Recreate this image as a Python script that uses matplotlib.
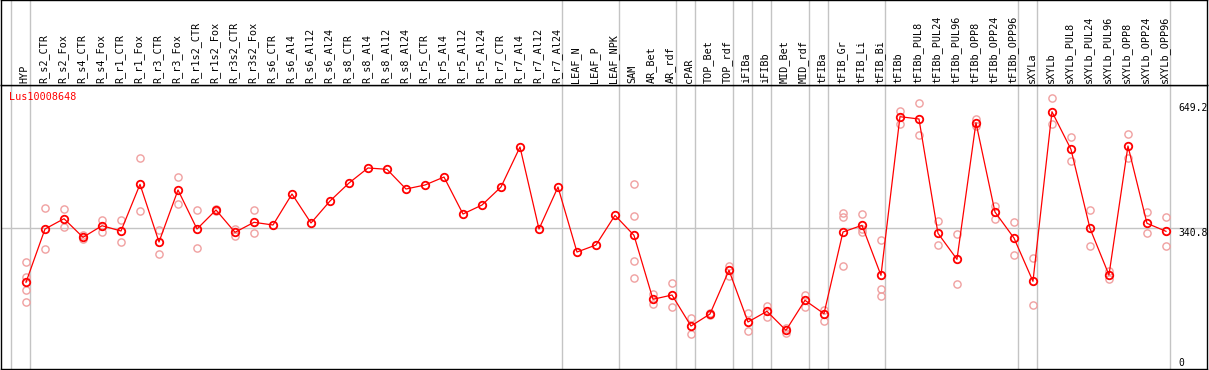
import matplotlib
matplotlib.use("Agg")
import matplotlib.pyplot as plt
import matplotlib.transforms as mtransforms

# sample names (columns)
categories = [
    "HYP", "R_s2_CTR", "R_s2_Fox", "R_s4_CTR", "R_s4_Fox", "R_r1_CTR", "R_r1_Fox",
    "R_r3_CTR", "R_r3_Fox", "R_r1s2_CTR", "R_r1s2_Fox", "R_r3s2_CTR", "R_r3s2_Fox",
    "R_s6_CTR", "R_s6_Al4", "R_s6_Al12", "R_s6_Al24", "R_s8_CTR", "R_s8_Al4",
    "R_s8_Al12", "R_s8_Al24", "R_r5_CTR", "R_r5_Al4", "R_r5_Al12", "R_r5_Al24",
    "R_r7_CTR", "R_r7_Al4", "R_r7_Al12", "R_r7_Al24", "LEAF_N", "LEAF_P", "LEAF_NPK",
    "SAM", "AR_Bet", "AR_rdf", "cPAR", "TOP_Bet", "TOP_rdf", "iFIBa", "iFIBb",
    "MID_Bet", "MID_rdf", "tFIBa", "tFIB_Gr", "tFIB_Li", "tFIB_Bi", "tFIBb",
    "tFIBb_PUL8", "tFIBb_PUL24", "tFIBb_PUL96", "tFIBb_OPP8", "tFIBb_OPP24",
    "tFIBb_OPP96", "sXYLa", "sXYLb", "sXYLb_PUL8", "sXYLb_PUL24", "sXYLb_PUL96",
    "sXYLb_OPP8", "sXYLb_OPP24", "sXYLb_OPP96",
]

# mean expression per sample
means = [
    207.6, 339.1, 364.5, 318.6, 347.2, 334.2, 449.4, 307.0, 435.4, 339.1, 386.0,
    331.0, 355.6, 349.0, 425.5, 353.9, 408.2, 452.6, 489.7, 486.4, 437.8, 447.7,
    467.4, 376.1, 398.3, 442.8, 541.5, 339.1, 442.8, 282.3, 299.6, 372.9,
    323.5, 165.6, 176.2, 99.7, 129.3, 237.2, 109.6, 136.0, 89.1, 163.1, 130.1,
    331.7, 348.2, 224.8, 616.3, 610.6, 328.5, 264.3, 601.4, 381.1, 316.9,
    210.0, 628.6, 535.8, 340.8, 225.6, 543.9, 353.2, 333.4,
]

# replicate values per sample (empty = no replicates shown)
replicates = [
    [256.9, 221.4, 188.6, 158.2], [390.2, 289.0], [387.7, 343.3], [323.1, 314.4],
    [362.1, 332.4], [361.3, 306.3], [514.3, 383.5], [336.6, 276.7], [466.7, 400.8],
    [386.0, 292.2], [389.2, 382.8], [339.1, 322.6], [386.0, 328.5],
    [], [], [], [], [], [], [], [], [], [], [], [], [], [], [], [], [], [], [],
    [450.2, 370.4, 259.4, 217.4], [178.7, 153.3], [205.8, 146.6], [118.7, 80.0],
    [131.1, 127.6], [248.5, 223.8], [131.1, 87.4], [149.8, 122.7], [94.8, 81.7],
    [176.2, 147.3], [138.5, 112.8], [379.3, 369.5, 247.8], [375.4, 337.9, 331.7],
    [311.2, 190.3, 174.5], [631.1, 598.2], [649.3, 570.4], [358.8, 298.9],
    [326.0, 202.6], [609.8, 593.3], [395.9, 363.8], [356.4, 274.9],
    [267.5, 150.8], [662.4, 598.2], [565.4, 506.2], [386.0, 297.1],
    [236.2, 215.0], [572.8, 514.3], [380.3, 328.5], [368.0, 297.1],
]

# group separators: drawn after these column indices (-1 = before the first)
separators_after = [-1, 0, 28, 31, 34, 35, 37, 38, 39, 41, 42, 45, 52, 53, 60]

gene_name = "Lus10008648"
ref_value = 340.8
max_value = 649.2

RED = "#ff0000"
PINK = "#f0a0a0"
GRID = "#c4c4c4"
W, H = 1209, 370

fig = plt.figure(figsize=(W / 100, H / 100), dpi=100)
left, right = 1 / W, 1206 / W
ax = fig.add_axes([left, 1 / H, right, 284 / H])
lab = fig.add_axes([left, 285 / H, right, 85 / H], sharex=ax)

x = list(range(len(categories)))
xlim = (-1.316, 62.16)

# separators in both panels
for a in (ax, lab):
    for s in separators_after:
        a.axvline(s + 0.21, color=GRID, lw=1.0, zorder=0)
    for sp in a.spines.values():
        sp.set_color("black")
        sp.set_linewidth(1.0)
    a.set_xticks([])
    a.set_yticks([])

ax.axhline(ref_value, color=GRID, lw=1.0, zorder=0)

# replicates
for i, reps in enumerate(replicates):
    if reps:
        ax.plot([i] * len(reps), reps, linestyle="none", marker="o", ms=5.2,
                mfc="none", mec=PINK, mew=1.0, zorder=2)

# means
ax.plot(x, means, color=RED, lw=0.9, marker="o", ms=5.4, mfc="none",
        mec=RED, mew=1.3, zorder=3)

ax.set_xlim(*xlim)
ax.set_ylim(-6.4, 694.5)

ax.text(8 / 1206, 1 - 7 / 284, gene_name, transform=ax.transAxes, color=RED,
        fontsize=7.3, family="DejaVu Sans Mono", ha="left", va="top")

xr = 60.63
ax.text(xr, max_value, f"{max_value}", fontsize=7, family="DejaVu Sans Mono",
        ha="left", va="top")
ax.text(xr, ref_value, f"{ref_value}", fontsize=7, family="DejaVu Sans Mono",
        ha="left", va="top")
ax.text(xr, 0, "0", fontsize=7, family="DejaVu Sans Mono", ha="left",
        va="baseline")

# rotated sample labels
trans = mtransforms.blended_transform_factory(lab.transData, lab.transAxes)
for i, name in enumerate(categories):
    lab.text(i - 0.08, 2 / 85, name, transform=trans, rotation=90,
             fontsize=7.3, family="DejaVu Sans Mono", ha="center", va="bottom")
lab.set_ylim(0, 1)

fig.savefig("out.png", dpi=100)
